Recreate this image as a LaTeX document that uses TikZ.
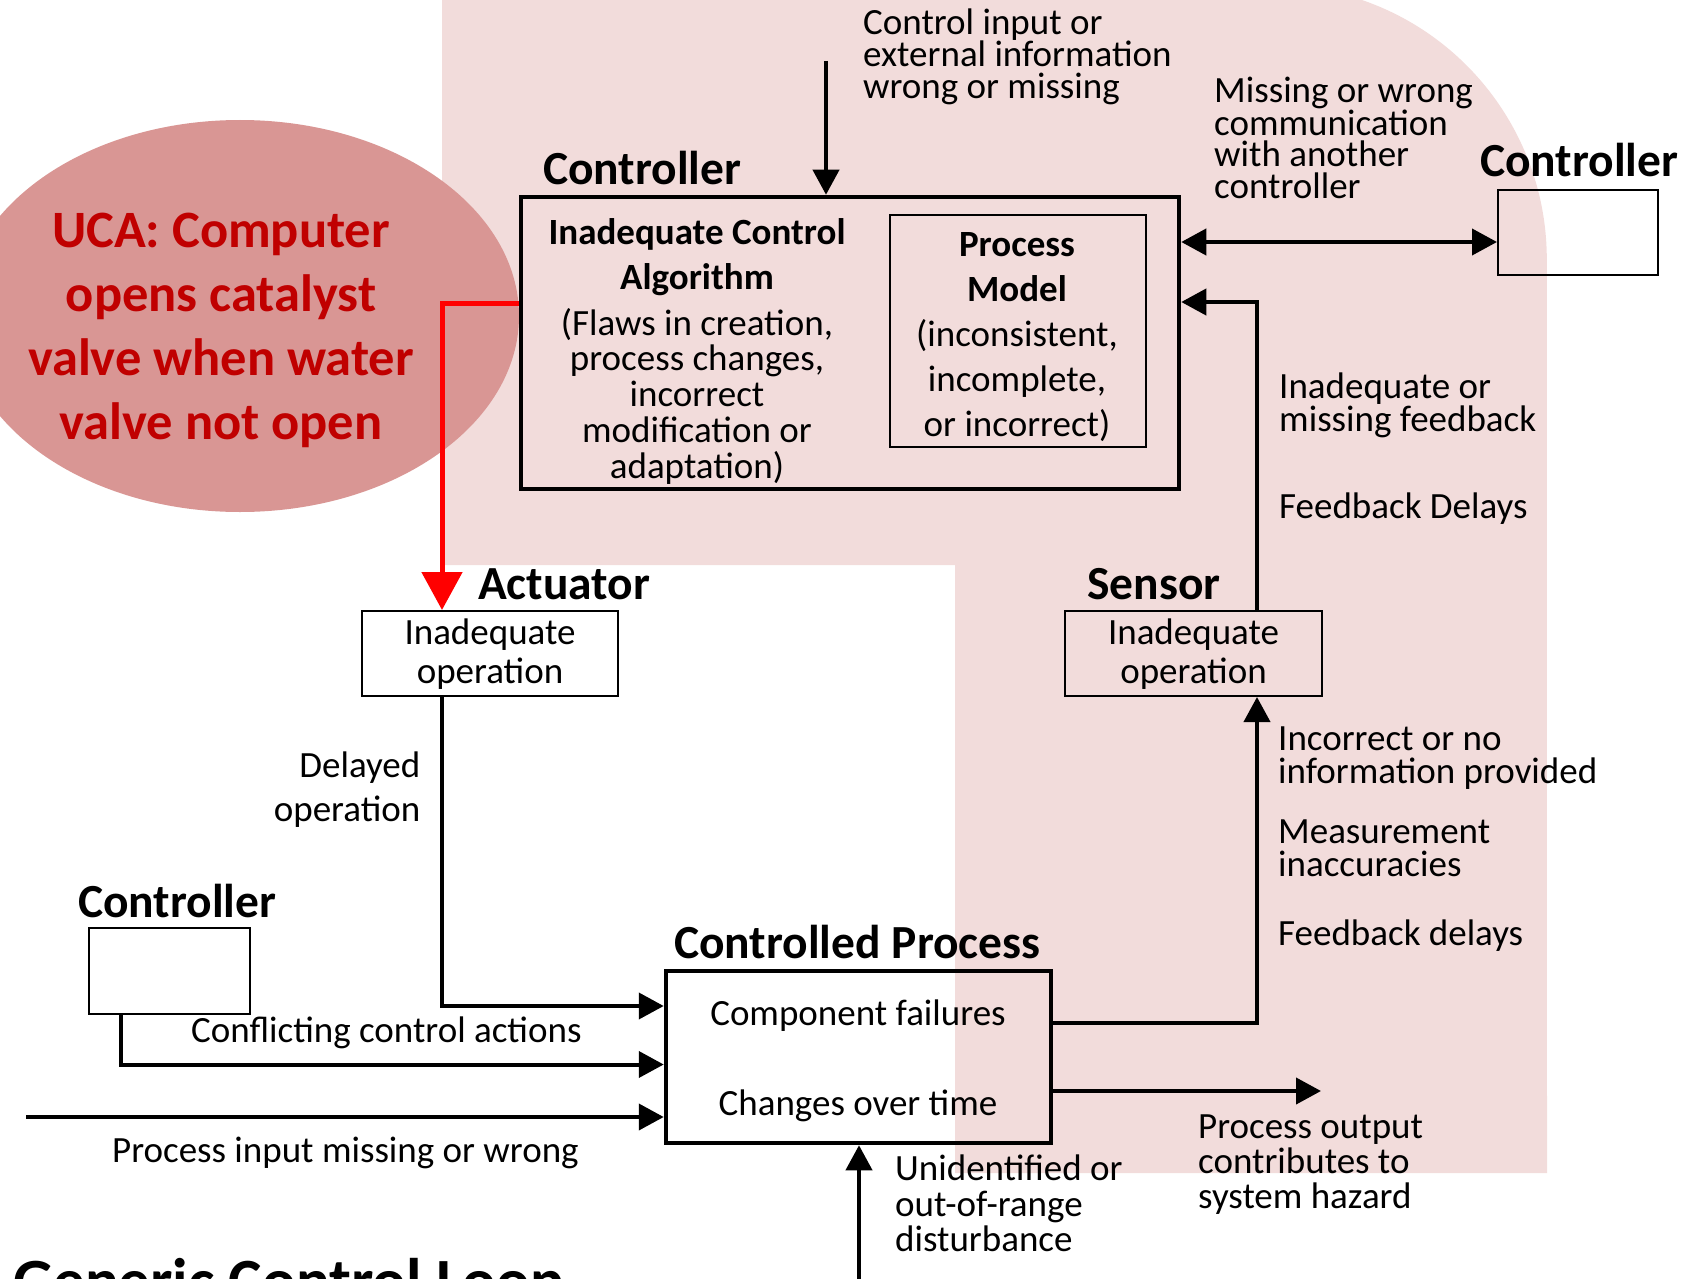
\documentclass[tikz,border=0pt]{standalone}
\usepackage{fontspec}
\setmainfont{Carlito}
\usetikzlibrary{arrows.meta,shapes.geometric}
\definecolor{bgpink}{HTML}{F2DCDB}
\definecolor{ellred}{HTML}{D99694}
\definecolor{ucared}{HTML}{C00000}
\definecolor{linkred}{HTML}{FF0000}
\begin{document}
\begin{tikzpicture}[x=1pt,y=-1pt,
  txt/.style={inner sep=0pt, yshift=-2pt},
  lbl/.style={txt, anchor=base west, align=left, font=\fontsize{37}{32}\selectfont},
  head/.style={txt, anchor=base west, font=\bfseries\fontsize{47.5}{50}\selectfont},
  boxtext/.style={txt, anchor=base, align=center, font=\fontsize{37}{39}\selectfont},
  thinbox/.style={draw, line width=2pt, inner sep=0pt},
  thickbox/.style={draw, line width=4.5pt, inner sep=0pt},
  conn/.style={line width=4pt, -{Triangle[length=25pt,width=26pt]}},
  dconn/.style={line width=4pt, {Triangle[length=25pt,width=26pt]}-{Triangle[length=25pt,width=26pt]}},
  redconn/.style={draw=linkred, line width=5pt, -{Triangle[length=38pt,width=40pt]}}]
\useasboundingbox (0,0) rectangle (1687,1279);
\clip (0,0) rectangle (1687,1279);

% shaded region behind the controller/sensor side of the loop
% (multi-line nodes below are placed by the baseline of their last line)
\fill[bgpink] (442,0) -- (1362,0) arc[start angle=71, end angle=0, radius=274pt]
  -- (1547,1173) -- (955,1173) -- (955,565) -- (442,565) -- cycle;

% unsafe control action callout
\node[ellipse, fill=ellred, minimum width=558pt, minimum height=392pt, inner sep=0pt] (ucabg) at (240,316) {};
\node[txt, anchor=base, align=center, text=ucared,
  font=\bfseries\fontsize{52.5}{64}\selectfont] (uca) at (221,437)
  {UCA: Computer\\opens catalyst\\valve when water\\valve not open};

% main controller
\node[thickbox, minimum width=658pt, minimum height=292pt] (ctrl) at (850,343) {};
\node[head] (ctrlhead) at (543,182) {Controller};
\node[txt, anchor=base, align=center, font=\bfseries\fontsize{37}{45}\selectfont]
  (algt) at (697,287) {Inadequate Control\\Algorithm};
\node[txt, anchor=base, align=center, font=\fontsize{37}{35.75}\selectfont]
  (algd) at (697,476) {(Flaws in creation,\\process changes,\\incorrect\\modification or\\adaptation)};
\node[thinbox, minimum width=256pt, minimum height=232pt] (pm) at (1018,331) {};
\node[txt, anchor=base, align=center, font=\fontsize{37}{44.9}\selectfont]
  (pmtxt) at (1017,434.5) {\textbf{Process}\\\textbf{Model}\\(inconsistent,\\incomplete,\\or incorrect)};

% control input
\coordinate (cin) at (826,61);
\draw[conn] (cin) -- (cin |- ctrl.north);
\node[lbl] (cinlbl) at (863,97) {Control input or\\external information\\wrong or missing};

% other controller (right)
\node[thinbox, minimum width=160pt, minimum height=85pt] (ctrlr) at (1578,232.5) {};
\node[head] (ctrlrhead) at (1480,175) {Controller};
\coordinate (comm) at (1300,242);
\draw[dconn] (comm -| ctrl.east) -- (comm -| ctrlr.west);
\node[lbl, font=\fontsize{37}{31.5}\selectfont] (commlbl) at (1214,196)
  {Missing or wrong\\communication\\with another\\controller};

% sensor
\node[thinbox, minimum width=257pt, minimum height=85pt] (sens) at (1193.5,653.5) {};
\node[head] (senshead) at (1087,597) {Sensor};
\node[boxtext] (senstxt) at (1193.5,681) {Inadequate\\operation};
\coordinate (fb) at (1257,302);
\draw[conn] (fb |- sens.north) -- (fb) -- (fb -| ctrl.east);
\node[lbl, font=\fontsize{37}{33}\selectfont] (fblbl) at (1279,429) {Inadequate or\\missing feedback};
\node[lbl] (fbdel) at (1279,516) {Feedback Delays};

% actuator
\node[thinbox, minimum width=256pt, minimum height=85pt] (act) at (490,653.5) {};
\node[head] (acthead) at (478,597) {Actuator};
\node[boxtext] (acttxt) at (490,681) {Inadequate\\operation};
\coordinate (rc) at (442,303);
\draw[redconn] (rc -| ctrl.west) -- (rc) -- (rc |- act.north);

% controlled process
\node[thickbox, minimum width=385pt, minimum height=172pt] (proc) at (858.5,1057) {};
\node[head] (prochead) at (674,956) {Controlled Process};
\node[boxtext] (comp) at (858,1023) {Component failures};
\node[boxtext] (chg) at (858,1113) {Changes over time};

% actuator to process
\coordinate (dl) at (442,1006);
\draw[conn] (dl |- act.south) -- (dl) -- (dl -| proc.west);
\node[txt, anchor=base east, align=right, font=\fontsize{37}{44}\selectfont]
  (dllbl) at (420.5,819) {Delayed\\operation};

% other controller (left)
\node[thinbox, minimum width=161pt, minimum height=86pt] (ctrll) at (169.5,971) {};
\node[head] (ctrllhead) at (78,915) {Controller};
\coordinate (cf) at (121,1064.5);
\draw[conn] (cf |- ctrll.south) -- (cf) -- (cf -| proc.west);
\node[lbl] (cflbl) at (191,1040.5) {Conflicting control actions};

% process input
\coordinate (pin) at (26,1117);
\draw[conn] (pin) -- (pin -| proc.west);
\node[lbl] (pinlbl) at (112,1160) {Process input missing or wrong};

% process to sensor
\coordinate (sf) at (1257,1023);
\draw[conn] (sf -| proc.east) -- (sf) -- (sf |- sens.south);
\node[lbl, font=\fontsize{37}{33}\selectfont] (sflbl1) at (1278,781) {Incorrect or no\\information provided};
\node[lbl, font=\fontsize{37}{33}\selectfont] (sflbl2) at (1278,874) {Measurement\\inaccuracies};
\node[lbl] (sflbl3) at (1278,943) {Feedback delays};

% process output
\coordinate (pout) at (1321,1091);
\draw[conn] (pout -| proc.east) -- (pout);
\node[lbl, font=\fontsize{37}{35}\selectfont] (poutlbl) at (1198,1206) {Process output\\contributes to\\system hazard};

% disturbance
\coordinate (dist) at (859,1290);
\draw[conn] (dist) -- (dist |- proc.south);
\node[lbl, font=\fontsize{37}{35.5}\selectfont] (distlbl) at (895,1249.5) {Unidentified or\\out-of-range\\disturbance};

% title
\node[txt, anchor=base west, font=\bfseries\fontsize{63}{70}\selectfont] (title) at (13,1300) {Generic Control Loop};
\end{tikzpicture}
\end{document}
